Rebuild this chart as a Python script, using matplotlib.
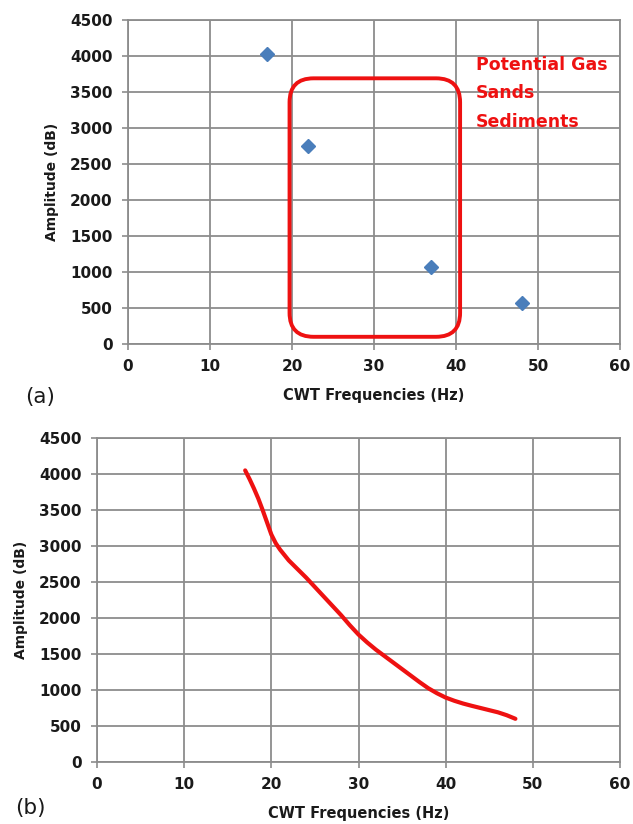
import matplotlib
matplotlib.use("Agg")
import matplotlib.pyplot as plt
from matplotlib.patches import FancyBboxPatch
from matplotlib.transforms import IdentityTransform

plt.rcParams["font.family"] = ["DejaVu Sans"]

# Scatter of CWT peak frequencies vs amplitude
freq_pts = [17, 22, 37, 48]
amp_pts = [4030, 2745, 1075, 570]

# Continuous amplitude trend over frequency
freq_curve = [17, 17.5, 18, 18.5, 19, 19.5, 20, 20.5, 21, 22, 23, 24, 25, 26, 27, 28, 29, 30,
              31, 32, 33, 34, 35, 36, 37, 38, 39, 40, 41, 42, 43, 44, 45, 46, 47, 48]
amp_curve = [4050, 3930, 3800, 3660, 3500, 3330, 3160, 3040, 2950, 2800, 2680, 2560, 2430, 2300,
             2170, 2040, 1900, 1770, 1660, 1560, 1470, 1380, 1290, 1200, 1110, 1025, 955, 895,
             850, 812, 780, 750, 720, 690, 650, 600]

x_ticks = [0, 10, 20, 30, 40, 50, 60]
y_ticks = [0, 500, 1000, 1500, 2000, 2500, 3000, 3500, 4000, 4500]

W, H, DPI = 633, 824, 100
fig = plt.figure(figsize=(W / DPI, H / DPI), dpi=DPI)

ax_a = fig.add_axes([128 / W, 1 - 344 / H, 492 / W, 324 / H])
ax_b = fig.add_axes([97 / W, 1 - 762 / H, 523 / W, 324 / H])

grid_c = "#8c8c8c"
text_c = "#1a1a1a"

for ax in (ax_a, ax_b):
    ax.set_xlim(0, 60)
    ax.set_ylim(0, 4500)
    ax.set_xticks(x_ticks)
    ax.set_yticks(y_ticks)
    ax.set_xticklabels([str(v) for v in x_ticks], fontweight="bold", fontsize=11, color=text_c)
    ax.set_yticklabels([str(v) for v in y_ticks], fontweight="bold", fontsize=11, color=text_c)
    ax.grid(True, color=grid_c, linewidth=1.3)
    ax.set_axisbelow(True)
    for sp in ax.spines.values():
        sp.set_color(grid_c)
        sp.set_linewidth(1.3)
    ax.tick_params(axis="both", direction="out", length=4, width=1.2, color=grid_c)
    ax.tick_params(axis="x", pad=7)
    ax.tick_params(axis="y", pad=7)
    ax.set_xlabel("CWT Frequencies (Hz)", fontsize=10.5, fontweight="bold", color=text_c, labelpad=10)
    ax.set_ylabel("Amplitude (dB)", fontsize=10, fontweight="bold", color=text_c, labelpad=8)

# (a) scatter with highlighted zone
ax_a.plot(freq_pts, amp_pts, linestyle="none", marker="D", markersize=7.5,
          color="#4a7ebb", markeredgecolor="#4a7ebb", zorder=3)

# rounded highlight box, drawn in pixel space so the corners stay circular
x0, y0 = ax_a.transData.transform((19.7, 100))
x1, y1 = ax_a.transData.transform((40.5, 3690))
box = FancyBboxPatch((x0, y0), x1 - x0, y1 - y0,
                     boxstyle="round,pad=0,rounding_size=24",
                     transform=IdentityTransform(), fill=False,
                     edgecolor="#ee1111", linewidth=2.8, zorder=4)
fig.add_artist(box)

ax_a.text(42.4, 4000, "Potential Gas\nSands\nSediments", color="#ee1111",
          fontsize=12.5, fontweight="bold", va="top", ha="left",
          linespacing=1.75, zorder=5)

# (b) trend curve
ax_b.plot(freq_curve, amp_curve, color="#ee1111", linewidth=3, solid_capstyle="round",
          solid_joinstyle="round", zorder=3)

fig.text(25 / W, 1 - 397 / H, "(a)", fontsize=15.5, color=text_c, va="center", ha="left")
fig.text(15 / W, 1 - 808 / H, "(b)", fontsize=15.5, color=text_c, va="center", ha="left")

fig.savefig("out.png", dpi=DPI, facecolor="white")
